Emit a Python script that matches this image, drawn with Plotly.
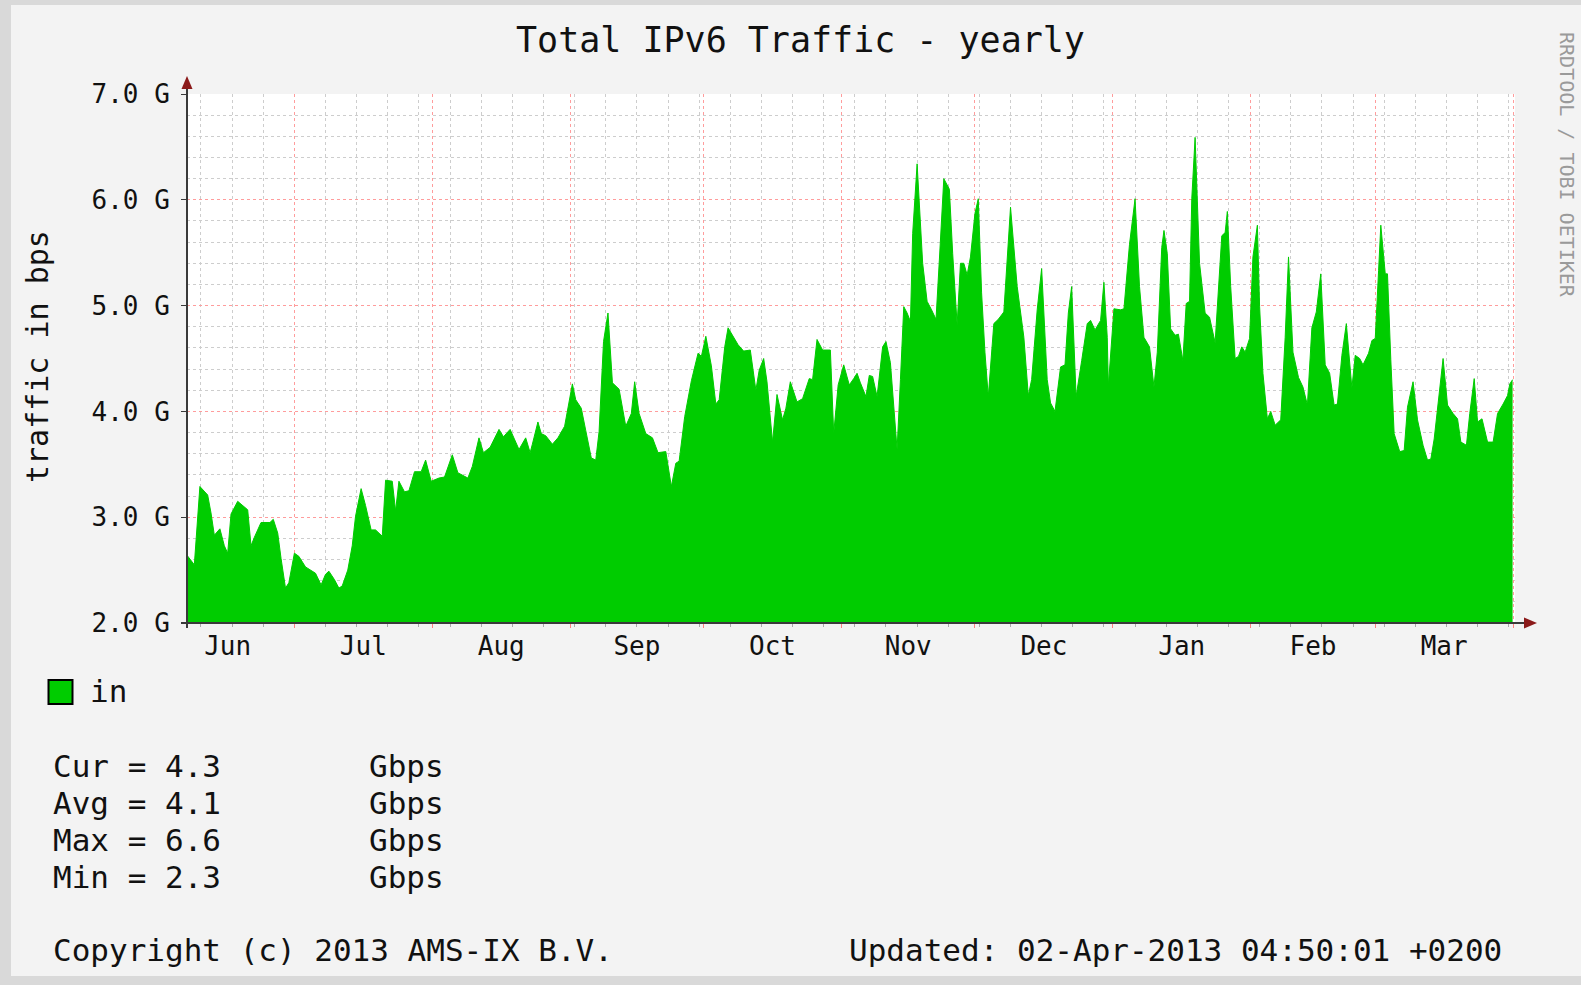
import plotly.graph_objects as go

# daily-ish samples (Gbps)
sample_times = [
    "2012-06-06 12:00", "2012-06-08 12:00", "2012-06-09 18:00", "2012-06-11 12:00", "2012-06-12 06:00",
    "2012-06-13 00:00", "2012-06-14 06:00", "2012-06-15 06:00", "2012-06-16 00:00", "2012-06-16 18:00",
    "2012-06-18 06:00", "2012-06-20 12:00", "2012-06-21 06:00", "2012-06-22 00:00", "2012-06-23 12:00",
    "2012-06-25 12:00", "2012-06-26 06:00", "2012-06-27 06:00", "2012-06-28 00:00", "2012-06-29 00:00",
    "2012-06-29 18:00", "2012-07-01 00:00", "2012-07-02 00:00", "2012-07-03 12:00", "2012-07-05 18:00",
    "2012-07-07 00:00", "2012-07-08 00:00", "2012-07-08 18:00", "2012-07-10 00:00", "2012-07-11 00:00",
    "2012-07-11 18:00", "2012-07-13 00:00", "2012-07-14 00:00", "2012-07-14 18:00", "2012-07-16 00:00",
    "2012-07-17 00:00", "2012-07-18 06:00", "2012-07-19 06:00", "2012-07-20 18:00", "2012-07-21 12:00",
    "2012-07-23 00:00", "2012-07-23 18:00", "2012-07-24 12:00", "2012-07-25 18:00", "2012-07-26 18:00",
    "2012-07-28 00:00", "2012-07-29 12:00", "2012-07-30 12:00", "2012-07-31 18:00", "2012-08-02 12:00",
    "2012-08-03 18:00", "2012-08-05 12:00", "2012-08-06 18:00", "2012-08-09 00:00", "2012-08-10 00:00",
    "2012-08-11 12:00", "2012-08-12 12:00", "2012-08-14 00:00", "2012-08-16 00:00", "2012-08-17 00:00",
    "2012-08-18 12:00", "2012-08-20 12:00", "2012-08-22 00:00", "2012-08-23 00:00", "2012-08-23 12:00",
    "2012-08-24 18:00", "2012-08-25 12:00", "2012-08-26 12:00", "2012-08-28 00:00", "2012-08-29 06:00",
    "2012-08-30 18:00", "2012-09-01 12:00", "2012-09-02 06:00", "2012-09-03 12:00", "2012-09-04 12:00",
    "2012-09-05 18:00", "2012-09-06 18:00", "2012-09-07 12:00", "2012-09-08 12:00", "2012-09-09 12:00",
    "2012-09-10 12:00", "2012-09-12 00:00", "2012-09-13 12:00", "2012-09-14 18:00", "2012-09-15 12:00",
    "2012-09-16 12:00", "2012-09-18 00:00", "2012-09-19 12:00", "2012-09-20 18:00", "2012-09-22 12:00",
    "2012-09-23 18:00", "2012-09-24 18:00", "2012-09-25 12:00", "2012-09-26 18:00", "2012-09-28 06:00",
    "2012-09-29 18:00", "2012-09-30 12:00", "2012-10-01 12:00", "2012-10-02 18:00", "2012-10-03 18:00",
    "2012-10-04 12:00", "2012-10-05 18:00", "2012-10-06 12:00", "2012-10-08 18:00", "2012-10-10 00:00",
    "2012-10-11 12:00", "2012-10-12 18:00", "2012-10-13 12:00", "2012-10-14 12:00", "2012-10-15 06:00",
    "2012-10-16 12:00", "2012-10-17 12:00", "2012-10-18 18:00", "2012-10-19 12:00", "2012-10-20 12:00",
    "2012-10-22 00:00", "2012-10-23 06:00", "2012-10-24 18:00", "2012-10-25 12:00", "2012-10-26 12:00",
    "2012-10-27 18:00", "2012-10-29 12:00", "2012-10-30 06:00", "2012-10-31 06:00", "2012-11-01 12:00",
    "2012-11-02 18:00", "2012-11-03 18:00", "2012-11-04 12:00", "2012-11-05 06:00", "2012-11-06 12:00",
    "2012-11-07 06:00", "2012-11-08 00:00", "2012-11-09 00:00", "2012-11-10 06:00", "2012-11-11 00:00",
    "2012-11-12 00:00", "2012-11-12 18:00", "2012-11-13 12:00", "2012-11-14 06:00", "2012-11-15 00:00",
    "2012-11-15 18:00", "2012-11-16 12:00", "2012-11-17 00:00", "2012-11-18 00:00", "2012-11-19 06:00",
    "2012-11-20 06:00", "2012-11-21 06:00", "2012-11-22 06:00", "2012-11-23 00:00", "2012-11-24 00:00",
    "2012-11-25 06:00", "2012-11-26 00:00", "2012-11-27 00:00", "2012-11-27 18:00", "2012-11-28 12:00",
    "2012-11-29 06:00", "2012-11-30 00:00", "2012-12-01 00:00", "2012-12-01 18:00", "2012-12-02 12:00",
    "2012-12-03 06:00", "2012-12-04 00:00", "2012-12-05 06:00", "2012-12-06 06:00", "2012-12-07 12:00",
    "2012-12-09 00:00", "2012-12-10 12:00", "2012-12-12 00:00", "2012-12-13 00:00", "2012-12-13 18:00",
    "2012-12-15 00:00", "2012-12-16 00:00", "2012-12-17 06:00", "2012-12-18 00:00", "2012-12-19 00:00",
    "2012-12-20 06:00", "2012-12-21 06:00", "2012-12-22 00:00", "2012-12-22 18:00", "2012-12-23 18:00",
    "2012-12-25 00:00", "2012-12-26 06:00", "2012-12-27 00:00", "2012-12-28 00:00", "2012-12-29 06:00",
    "2012-12-30 00:00", "2012-12-30 18:00", "2012-12-31 00:00", "2013-01-01 06:00", "2013-01-02 18:00",
    "2013-01-03 12:00", "2013-01-04 18:00", "2013-01-06 00:00", "2013-01-07 00:00", "2013-01-08 00:00",
    "2013-01-09 06:00", "2013-01-10 06:00", "2013-01-11 00:00", "2013-01-12 00:00", "2013-01-12 12:00",
    "2013-01-13 06:00", "2013-01-14 00:00", "2013-01-15 00:00", "2013-01-15 18:00", "2013-01-16 18:00",
    "2013-01-17 12:00", "2013-01-18 06:00", "2013-01-18 18:00", "2013-01-19 12:00", "2013-01-20 12:00",
    "2013-01-21 18:00", "2013-01-22 18:00", "2013-01-24 00:00", "2013-01-25 12:00", "2013-01-26 06:00",
    "2013-01-26 18:00", "2013-01-27 12:00", "2013-01-28 12:00", "2013-01-29 06:00", "2013-01-30 00:00",
    "2013-01-30 18:00", "2013-01-31 18:00", "2013-02-01 12:00", "2013-02-02 12:00", "2013-02-03 00:00",
    "2013-02-03 18:00", "2013-02-04 18:00", "2013-02-05 12:00", "2013-02-06 12:00", "2013-02-07 18:00",
    "2013-02-08 18:00", "2013-02-09 12:00", "2013-02-10 12:00", "2013-02-11 18:00", "2013-02-12 18:00",
    "2013-02-13 18:00", "2013-02-14 18:00", "2013-02-15 18:00", "2013-02-16 18:00", "2013-02-17 18:00",
    "2013-02-18 18:00", "2013-02-19 18:00", "2013-02-20 12:00", "2013-02-21 12:00", "2013-02-22 12:00",
    "2013-02-23 18:00", "2013-02-24 12:00", "2013-02-25 12:00", "2013-02-26 06:00", "2013-02-27 12:00",
    "2013-02-28 06:00", "2013-03-01 00:00", "2013-03-01 18:00", "2013-03-02 06:00", "2013-03-03 06:00",
    "2013-03-03 18:00", "2013-03-04 12:00", "2013-03-05 06:00", "2013-03-06 12:00", "2013-03-07 12:00",
    "2013-03-08 06:00", "2013-03-09 12:00", "2013-03-10 12:00", "2013-03-11 18:00", "2013-03-12 18:00",
    "2013-03-13 12:00", "2013-03-14 06:00", "2013-03-15 06:00", "2013-03-16 06:00", "2013-03-17 06:00",
    "2013-03-18 12:00", "2013-03-19 12:00", "2013-03-20 06:00", "2013-03-21 12:00", "2013-03-22 06:00",
    "2013-03-23 06:00", "2013-03-24 00:00", "2013-03-25 00:00", "2013-03-26 06:00", "2013-03-27 12:00",
    "2013-03-28 12:00", "2013-03-29 18:00", "2013-03-30 18:00", "2013-03-31 06:00", "2013-03-31 21:00",
]

traffic_in = [
    2.66, 2.55, 3.29, 3.21, 3.04,
    2.83, 2.89, 2.73, 2.66, 3.03,
    3.15, 3.07, 2.73, 2.81, 2.95,
    2.95, 2.98, 2.85, 2.61, 2.33,
    2.38, 2.66, 2.63, 2.53, 2.47,
    2.36, 2.46, 2.49, 2.41, 2.33,
    2.35, 2.50, 2.73, 3.01, 3.27,
    3.11, 2.88, 2.88, 2.82, 3.35,
    3.34, 3.06, 3.34, 3.24, 3.25,
    3.43, 3.43, 3.54, 3.34, 3.37,
    3.38, 3.59, 3.42, 3.37, 3.48,
    3.75, 3.61, 3.66, 3.83, 3.76,
    3.83, 3.64, 3.75, 3.61, 3.69,
    3.90, 3.79, 3.77, 3.69, 3.75,
    3.86, 4.26, 4.11, 4.03, 3.82,
    3.56, 3.54, 3.81, 4.66, 4.93,
    4.27, 4.21, 3.86, 3.98, 4.28,
    3.98, 3.79, 3.75, 3.61, 3.62,
    3.29, 3.51, 3.53, 3.95, 4.29,
    4.55, 4.52, 4.71, 4.43, 4.07,
    4.11, 4.61, 4.79, 4.63, 4.57,
    4.58, 4.20, 4.39, 4.50, 4.28,
    3.71, 4.16, 3.92, 4.03, 4.28,
    4.09, 4.12, 4.31, 4.30, 4.68,
    4.58, 4.58, 3.79, 4.25, 4.44,
    4.25, 4.31, 4.36, 4.27, 4.14,
    4.34, 4.33, 4.14, 4.61, 4.66,
    4.46, 4.05, 3.64, 4.30, 4.99,
    4.93, 4.85, 5.68, 6.34, 5.40,
    5.04, 4.96, 4.87, 5.43, 6.20,
    6.10, 5.49, 4.82, 5.40, 5.40,
    5.29, 5.46, 5.87, 6.01, 5.12,
    4.56, 4.14, 4.83, 4.87, 4.94,
    5.93, 5.18, 4.70, 4.15, 4.30,
    4.96, 5.35, 4.30, 4.08, 4.00,
    4.42, 4.44, 4.93, 5.18, 4.14,
    4.48, 4.83, 4.86, 4.77, 4.86,
    5.22, 4.70, 4.24, 4.97, 4.96,
    4.97, 5.58, 6.01, 5.18, 4.70,
    4.61, 4.23, 4.56, 5.55, 5.71,
    5.49, 4.78, 4.72, 4.73, 4.48,
    5.02, 5.04, 6.01, 6.59, 5.40,
    4.93, 4.89, 4.65, 5.66, 5.69,
    5.89, 5.18, 4.50, 4.52, 4.61,
    4.56, 4.69, 5.46, 5.76, 4.99,
    4.36, 3.93, 4.00, 3.87, 3.92,
    4.70, 5.46, 4.56, 4.32, 4.23,
    4.06, 4.79, 4.94, 5.30, 4.44,
    4.36, 4.06, 4.07, 4.53, 4.83,
    4.22, 4.53, 4.50, 4.44, 4.55,
    4.67, 4.69, 5.33, 5.76, 5.30,
    5.30, 4.49, 3.79, 3.62, 3.63,
    4.04, 4.28, 3.92, 3.68, 3.54,
    3.55, 3.74, 4.15, 4.50, 4.06,
    3.98, 3.93, 3.71, 3.68, 3.98,
    4.31, 3.90, 3.93, 3.71, 3.71,
    3.98, 4.07, 4.15, 4.26, 4.30,
]

stat_names = ["Cur", "Avg", "Max", "Min"]
stat_values = [4.3, 4.1, 6.6, 2.3]
stat_unit = "Gbps"

MONO = "DejaVu Sans Mono"
GREEN = "#00CC00"
TXT = "#111111"

W, H = 1581, 985
L, R, T, B = 187, 1515, 94, 623


# pixel -> paper helpers for the decorations
def px(x):
    return (x - L) / (R - L)


def py(y):
    return (B - y) / (B - T)


fig = go.Figure()
fig.add_trace(go.Scatter(
    x=sample_times, y=traffic_in, mode="lines", fill="tozeroy",
    fillcolor=GREEN, line=dict(color=GREEN, width=1),
    hoverinfo="skip", showlegend=False,
))

shapes = []
# light outer frame of the rrd image
for x0, y0, x1, y1 in [(0, 0, W, 5), (0, 0, 11, H), (0, 976, W, H)]:
    shapes.append(dict(type="rect", xref="paper", yref="paper",
                       x0=px(x0), x1=px(x1), y0=py(y0), y1=py(y1),
                       fillcolor="#D9D9D9", line=dict(width=0), layer="below"))
# axes with arrows
shapes.append(dict(type="line", xref="paper", yref="paper", x0=px(187), x1=px(187),
                   y0=py(628), y1=py(88), line=dict(color="#3A3A3A", width=2), layer="above"))
shapes.append(dict(type="line", xref="paper", yref="paper", x0=px(181), x1=px(1525),
                   y0=py(623), y1=py(623), line=dict(color="#3A3A3A", width=2), layer="above"))
shapes.append(dict(type="path", xref="paper", yref="paper",
                   path=f"M {px(181.5)},{py(89)} L {px(187)},{py(76)} L {px(192.5)},{py(89)} Z",
                   fillcolor="#8B1A1A", line=dict(width=0), layer="above"))
shapes.append(dict(type="path", xref="paper", yref="paper",
                   path=f"M {px(1524)},{py(617.5)} L {px(1537)},{py(623)} L {px(1524)},{py(628.5)} Z",
                   fillcolor="#8B1A1A", line=dict(width=0), layer="above"))
# legend swatch
shapes.append(dict(type="rect", xref="paper", yref="paper",
                   x0=px(48.5), x1=px(72.5), y0=py(704), y1=py(680),
                   fillcolor=GREEN, line=dict(color="#000000", width=2)))

annotations = [
    dict(text="Total IPv6 Traffic - yearly", x=px(800), y=py(40),
         font=dict(family=MONO, size=35, color=TXT)),
    dict(text="traffic in bps", x=px(37), y=py(357), textangle=-90,
         font=dict(family=MONO, size=30, color=TXT)),
    dict(text="RRDTOOL / TOBI OETIKER", x=px(1567), y=py(165), textangle=90,
         font=dict(family=MONO, size=20, color="#9A9A9A")),
    dict(text="in", x=px(88), y=py(691), xanchor="left",
         font=dict(family=MONO, size=31, color=TXT)),
    dict(text="Copyright (c) 2013 AMS-IX B.V.", x=px(51), y=py(950), xanchor="left",
         font=dict(family=MONO, size=31, color=TXT)),
    dict(text="Updated: 02-Apr-2013 04:50:01 +0200", x=px(1504), y=py(950), xanchor="right",
         font=dict(family=MONO, size=31, color=TXT)),
]
stat_rows = [766, 803, 840, 877]
for name, val, row in zip(stat_names, stat_values, stat_rows):
    annotations.append(dict(text=f"{name} = {val:.1f}", x=px(51), y=py(row), xanchor="left",
                            font=dict(family=MONO, size=31, color=TXT)))
    annotations.append(dict(text=stat_unit, x=px(367), y=py(row), xanchor="left",
                            font=dict(family=MONO, size=31, color=TXT)))
for a in annotations:
    a.update(xref="paper", yref="paper", showarrow=False)
    a.setdefault("xanchor", "center")
    a.setdefault("yanchor", "middle")

fig.update_layout(
    width=W, height=H,
    margin=dict(l=L, r=W - R, t=T, b=H - B),
    paper_bgcolor="#F3F3F3", plot_bgcolor="#FFFFFF",
    showlegend=False, shapes=shapes, annotations=annotations,
    xaxis=dict(
        type="date", range=["2012-06-06 20:30", "2013-04-01 10:05"],
        tick0="2012-07-01", dtick="M1", tickformat="%b", ticklabelmode="period",
        showgrid=True, gridcolor="#FF9C9C", griddash="dot", gridwidth=1,
        ticks="outside", ticklen=4, tickcolor="#FF8080", ticklabelstandoff=-4,
        showline=False, zeroline=False, fixedrange=True,
        tickfont=dict(family=MONO, size=26, color=TXT),
        minor=dict(tick0="2012-07-01", dtick=7 * 86400000, showgrid=True,
                   gridcolor="#CDCDCD", griddash="dot", ticks="outside",
                   ticklen=3, tickcolor="#AAAAAA"),
    ),
    yaxis=dict(
        range=[2, 7], tick0=2, dtick=1, tickformat=".1f", ticksuffix=" G",
        showgrid=True, gridcolor="#FF9C9C", griddash="dot", gridwidth=1,
        ticks="outside", ticklen=5, tickcolor="#3A3A3A", ticklabelstandoff=6,
        showline=False, zeroline=False, fixedrange=True,
        tickfont=dict(family=MONO, size=26, color=TXT),
        minor=dict(dtick=0.2, showgrid=True, gridcolor="#CDCDCD", griddash="dot"),
    ),
)

fig.write_html("out.html", config={"displayModeBar": False},
               post_script="document.body.style.margin='0px';")
